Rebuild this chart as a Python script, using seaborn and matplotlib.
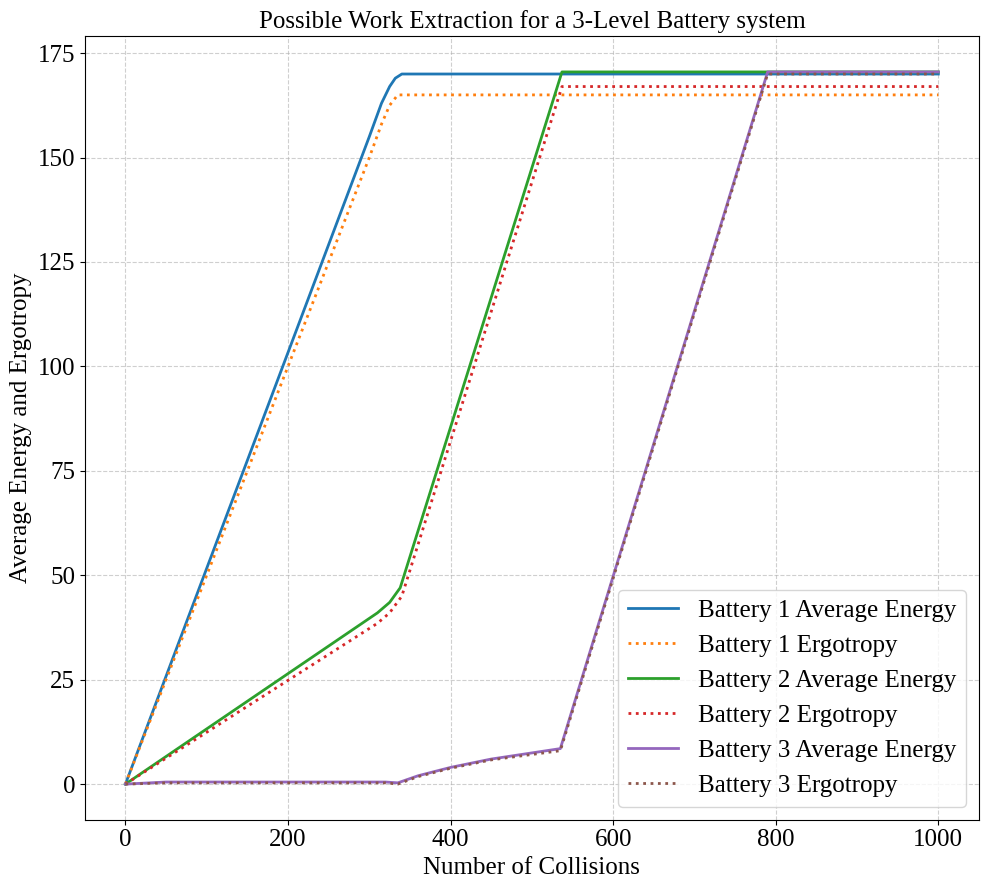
import pandas as pd
import matplotlib.pyplot as plt
import seaborn as sns

# Pontos (colisões, valor)
b1_energia_x = [0, 300, 315, 325, 332, 340, 1000]
b1_energia_y = [0, 155, 163, 167, 169, 170, 170]
b1_ergo_x = [0, 300, 315, 325, 335, 1000]
b1_ergo_y = [0, 150, 158, 162.5, 165, 165]

b2_energia_x = [0, 310, 325, 338, 537, 1000]
b2_energia_y = [0, 41, 43.5, 47, 170.5, 170.5]
b2_ergo_x = [0, 310, 325, 340, 537, 1000]
b2_ergo_y = [0, 38.5, 41, 45, 167, 167]

b3_energia_x = [0, 50, 320, 335, 360, 400, 450, 535, 790, 1000]
b3_energia_y = [0, 0.5, 0.5, 0.3, 2, 4, 6, 8.5, 170.5, 170.5]
b3_ergo_x = [0, 50, 320, 335, 360, 400, 450, 535, 790, 1000]
b3_ergo_y = [0, 0.3, 0.3, 0, 1.8, 3.8, 5.8, 8, 170, 170]

series = [
    ('Battery 1 Average Energy', b1_energia_x, b1_energia_y, '#1f77b4', '-'),
    ('Battery 1 Ergotropy', b1_ergo_x, b1_ergo_y, '#ff7f0e', ':'),
    ('Battery 2 Average Energy', b2_energia_x, b2_energia_y, '#2ca02c', '-'),
    ('Battery 2 Ergotropy', b2_ergo_x, b2_ergo_y, '#d62728', ':'),
    ('Battery 3 Average Energy', b3_energia_x, b3_energia_y, '#9467bd', '-'),
    ('Battery 3 Ergotropy', b3_ergo_x, b3_ergo_y, '#8c564b', ':'),
]

plt.rcParams['font.family'] = ['Liberation Serif', 'DejaVu Serif']
plt.rcParams['font.size'] = 18

fig, ax = plt.subplots(figsize=(9.89, 8.89), dpi=100)
for nome, x, y, cor, estilo in series:
    df = pd.DataFrame({'x': x, 'y': y})
    sns.lineplot(data=df, x='x', y='y', ax=ax, color=cor, linestyle=estilo,
                 linewidth=2, label=nome)

ax.set_title('Possible Work Extraction for a 3-Level Battery system', fontsize=18)
ax.set_xlabel('Number of Collisions', fontsize=18)
ax.set_ylabel('Average Energy and Ergotropy', fontsize=18)
ax.tick_params(labelsize=18)
ax.set_xticks([0, 200, 400, 600, 800, 1000])
ax.set_yticks(range(0, 176, 25))
ax.grid(True, ls='--', alpha=0.6)
ax.legend(loc='lower right', fontsize=18)
plt.tight_layout(pad=0.4)
plt.savefig('out.png')
